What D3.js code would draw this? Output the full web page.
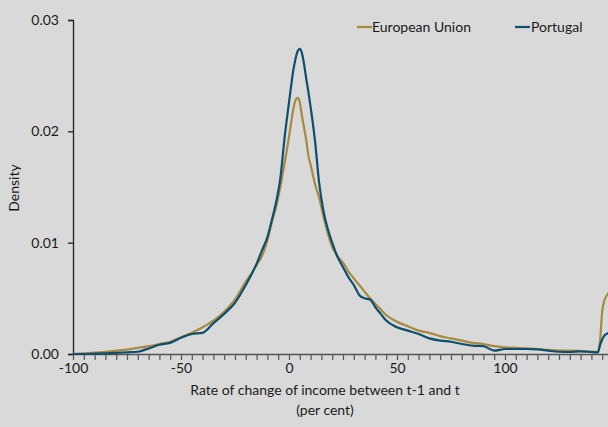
<!DOCTYPE html>
<html><head><meta charset="utf-8">
<script src="https://cdn.jsdelivr.net/npm/d3@7"></script>
<style>
html,body{margin:0;padding:0;background:#d9d9d9;}
svg{display:block;}
text{font-family:Lato,"Open Sans",sans-serif;fill:#1a1a1a;}
</style></head>
<body>
<svg id="c" width="608" height="427"></svg>
<script>
const xValues = [-100,-95,-90,-85,-80,-75,-70,-65,-60,-55,-50,-45,-40,-35,-30,-25,-20,-17.5,-15,-12.5,-10,-8,-6,-4,-2,0,1,2,3,4,5,6,7,8,9,10,12,14,16,18,20,22.5,25,27.5,30,32.5,35,37.5,40,42.5,45,50,55,60,65,70,75,80,85,90,95,100,105,110,115,120,125,130,135,140,142,143,144,145,146,148,150];
const euValues = [0,0.00005,0.00012,0.0002,0.0003,0.0004,0.00055,0.0007,0.0009,0.0011,0.0015,0.0019,0.0024,0.003,0.0038,0.0049,0.0065,0.0072,0.008,0.0088,0.0102,0.0118,0.0132,0.015,0.0172,0.0195,0.0208,0.022,0.0228,0.023,0.0226,0.0214,0.0203,0.0192,0.0178,0.017,0.0153,0.014,0.0123,0.0108,0.0096,0.0088,0.0082,0.0074,0.0068,0.0062,0.0056,0.005,0.0045,0.004,0.0035,0.0029,0.0025,0.0021,0.0019,0.0016,0.0014,0.0012,0.001,0.0009,0.0007,0.0006,0.00055,0.0005,0.00045,0.00037,0.0003,0.0003,0.00027,0.00022,0.0002,0.0002,0.0012,0.0038,0.0048,0.0055,0.006];
const ptValues = [0,0,0.00003,0.00006,0.0001,0.00015,0.0002,0.0005,0.00083,0.001,0.00145,0.0018,0.0019,0.00277,0.0036,0.0046,0.0062,0.0071,0.0081,0.0093,0.0105,0.012,0.0136,0.0158,0.0195,0.0226,0.0241,0.0255,0.0265,0.0272,0.0274,0.027,0.026,0.0247,0.0235,0.0222,0.0192,0.0153,0.0128,0.0112,0.01,0.0087,0.0078,0.0069,0.0062,0.0053,0.005,0.0049,0.0042,0.0036,0.003,0.0024,0.0021,0.0018,0.0014,0.0012,0.0011,0.0009,0.00075,0.0007,0.0003,0.00045,0.00045,0.00045,0.00042,0.0003,0.0002,0.00018,0.00024,0.00018,0.00015,0.00015,0.0008,0.0013,0.00165,0.0019,0.0021];
const seriesNames = ["European Union","Portugal"];
const yTicks = [0,0.01,0.02,0.03];
const xTickLabels = [-100,-50,0,50,100];
const xMinorTicks = d3.range(-100,150,5);

const colors = ["#a8893f","#0d4f6f"];
const FS = "14px";
const svg = d3.select("#c");
const W = 608, H = 427;
const x = d3.scaleLinear().domain([-100,150]).range([73,613]);
const y = d3.scaleLinear().domain([0,0.03]).range([354,20]);

svg.append("rect").attr("width",W).attr("height",H).attr("fill","#d9d9d9");

svg.append("defs").append("clipPath").attr("id","clip")
  .append("rect").attr("x",70).attr("y",0).attr("width",W-70).attr("height",360);

// y axis
const yAxis = d3.axisLeft(y).tickValues(yTicks).tickFormat(d3.format(".2f")).tickSize(5).tickPadding(9);
const gy = svg.append("g").attr("transform","translate(73,0)").call(yAxis);
gy.select(".domain").attr("stroke","#222").attr("stroke-width",1.3);
gy.selectAll(".tick line").attr("stroke","#222").attr("stroke-width",1.3);
gy.selectAll("text").style("font-size",FS).style("font-family","Lato, sans-serif").attr("fill","#1a1a1a");

// x axis with minor ticks
const xAxis = d3.axisBottom(x).tickValues(xMinorTicks).tickFormat(d => xTickLabels.includes(d) ? d : "").tickSize(6).tickPadding(3).tickSizeOuter(0);
const gx = svg.append("g").attr("transform","translate(0,354)").call(xAxis);
gx.select(".domain").attr("stroke","#555").attr("stroke-width",1.3);
gx.selectAll(".tick line").attr("stroke","#555").attr("stroke-width",1.2);
gx.selectAll("text").style("font-size",FS).style("font-family","Lato, sans-serif").attr("fill","#1a1a1a");

// lines
const data = [euValues, ptValues];
const line = d3.line().x((d,i)=>x(xValues[i])).y(d=>y(d)).curve(d3.curveMonotoneX);
const plot = svg.append("g").attr("clip-path","url(#clip)");
data.forEach((vals,k)=>{
  plot.append("path").datum(vals).attr("d",line).attr("fill","none")
    .attr("stroke",colors[k]).attr("stroke-width",2.2).attr("stroke-linejoin","round");
});

// axis titles
svg.append("text").attr("x",325).attr("y",395).attr("text-anchor","middle").style("font-size",FS)
  .text("Rate of change of income between t-1 and t");
svg.append("text").attr("x",325).attr("y",415).attr("text-anchor","middle").style("font-size",FS)
  .text("(per cent)");
svg.append("text").attr("transform","translate(19,188) rotate(-90)").attr("text-anchor","middle").style("font-size",FS)
  .text("Density");

// legend
const legItems = [{name:seriesNames[0], lx:357, tx:372},{name:seriesNames[1], lx:515, tx:531}];
const legG = svg.append("g");
legItems.forEach((it,k)=>{
  legG.append("line").attr("x1",it.lx).attr("x2",it.lx+15).attr("y1",27).attr("y2",27)
    .attr("stroke",colors[k]).attr("stroke-width",2.2);
  legG.append("text").attr("x",it.tx).attr("y",32).style("font-size",FS).text(it.name);
});
</script>
</body></html>
